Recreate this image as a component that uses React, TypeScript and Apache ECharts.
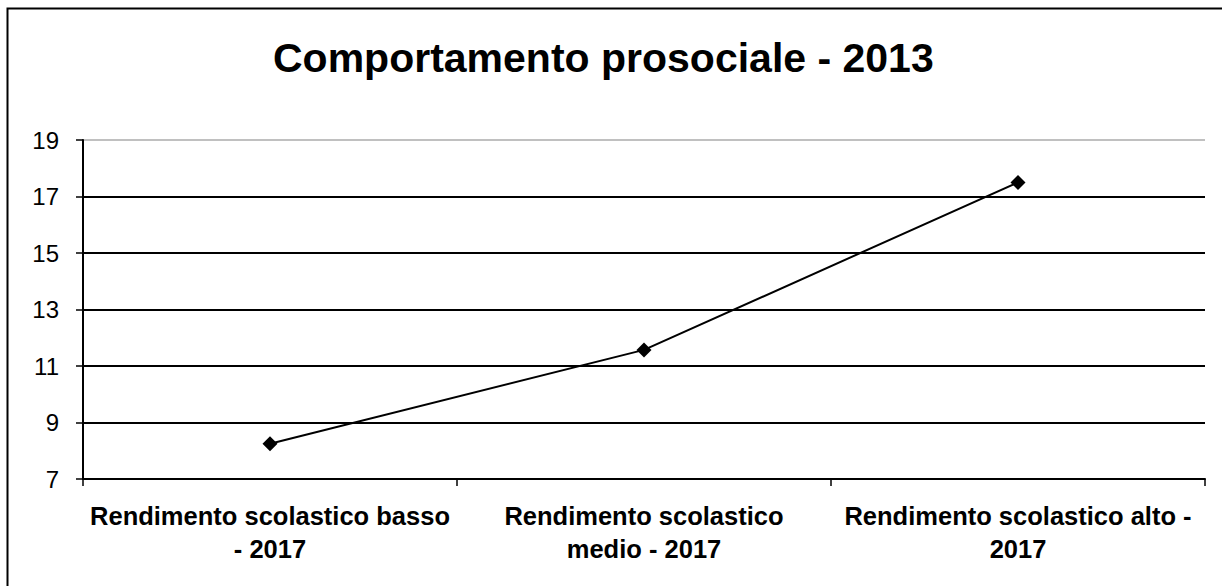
import React, { useEffect, useRef } from "react";
import * as echarts from "echarts";

const TITLE = "Comportamento prosociale - 2013";
const categories = [
  "Rendimento scolastico basso\n- 2017",
  "Rendimento scolastico\nmedio - 2017",
  "Rendimento scolastico alto -\n2017",
];
const values = [8.25, 11.57, 17.5];
const yMin = 7;
const yMax = 19;
const yInterval = 2;

export default function App() {
  const ref = useRef<HTMLDivElement>(null);
  useEffect(() => {
    if (!ref.current) return;
    const chart = echarts.init(ref.current, null, { renderer: "svg" });
    const font = "'Liberation Sans', Arial, sans-serif";
    chart.setOption({
      animation: false,
      backgroundColor: "#fff",
      title: {
        text: TITLE,
        left: 268,
        top: 32,
        textStyle: { fontFamily: font, fontSize: 41, fontWeight: "bold", color: "#000" },
      },
      graphic: [
        {
          type: "rect",
          shape: { x: 7.5, y: 8.5, width: 1240, height: 600 },
          style: { fill: "none", stroke: "#000", lineWidth: 2 },
          silent: true,
        },
      ],
      grid: { left: 83, right: 17, top: 140, bottom: 107, containLabel: false },
      xAxis: {
        type: "category",
        data: categories,
        boundaryGap: true,
        axisLine: { lineStyle: { color: "#000", width: 2 } },
        axisTick: { show: true, length: 7, lineStyle: { color: "#000", width: 1.5 } },
        axisLabel: {
          fontFamily: font,
          fontSize: 25.5,
          fontWeight: "bold",
          color: "#000",
          lineHeight: 33,
          margin: 20,
          interval: 0,
        },
      },
      yAxis: {
        type: "value",
        min: yMin,
        max: yMax,
        interval: yInterval,
        axisLine: { show: true, lineStyle: { color: "#000", width: 2 } },
        axisTick: { show: true, length: 7, lineStyle: { color: "#000", width: 1.5 } },
        axisLabel: { fontFamily: font, fontSize: 24, color: "#000", margin: 24 },
        splitLine: {
          show: true,
          lineStyle: {
            color: ["#000", "#000", "#000", "#000", "#000", "#000", "#c0c0c0"],
            width: 2,
          },
        },
      },
      series: [
        {
          type: "line",
          data: values,
          symbol: "diamond",
          symbolSize: 15,
          itemStyle: { color: "#000" },
          lineStyle: { color: "#000", width: 2 },
        },
      ],
    });
    return () => chart.dispose();
  }, []);
  return (
    <div
      ref={ref}
      style={{ position: "fixed", left: 0, top: 0, width: 1222, height: 586 }}
    />
  );
}
